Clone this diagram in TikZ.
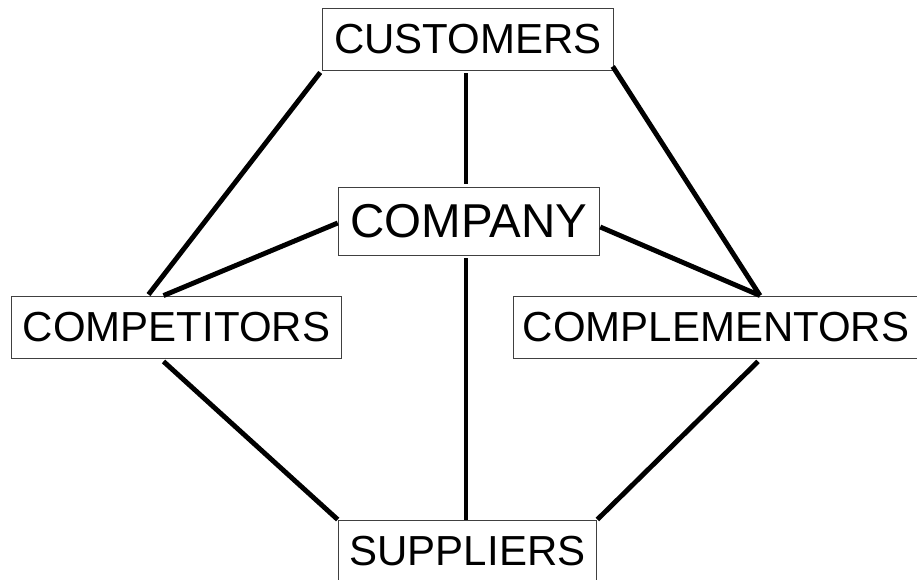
\documentclass[tikz,border=0pt]{standalone}
\usepackage{fontspec}
\setmainfont{Liberation Sans}
\usetikzlibrary{calc}

\tikzset{
  caja/.style={draw=black!75, line width=0.9pt, fill=white, inner xsep=11.5pt,
    minimum height=62pt, font=\fontsize{42}{48}\selectfont},
  cajagrande/.style={caja, inner xsep=12.5pt, minimum height=68pt,
    font=\fontsize{47.5}{54}\selectfont},
  enlace/.style={line width=4.9pt, black}
}

\begin{document}
\begin{tikzpicture}[x=1pt, y=-1pt]
        \useasboundingbox (0,0) rectangle (917,580);

        % Paso 1: Coloca las cajas de los actores
        \node[caja] (customers) at (468,39) {CUSTOMERS};
        \node[cajagrande] (company) at (469,221) {COMPANY};
        \node[caja] (competitors) at (176.5,327) {COMPETITORS};
        \node[caja, inner xsep=9pt] (complementors) at (716,327) {COMPLEMENTORS};
        \node[caja] (suppliers) at (467.5,551) {SUPPLIERS};

        % Paso 2: Une los clientes con los demás
        \draw[enlace] ($(customers.south west)+(-2,2)$) -- ($(competitors.north)+(-28,-1)$);
        \draw[enlace] ($(customers.south)+(-2,3)$) -- ($(company.north)+(-3,-3)$);
        \draw[enlace] ($(customers.south east)+(-1,-4)$) -- ($(complementors.north)+(44,0)$);

        % Paso 3: Une la empresa con los demás
        \draw[enlace] ($(company.west)+(0,2)$) -- ($(competitors.north)+(-13,0)$);
        \draw[enlace] ($(company.east)+(0,6)$) -- ($(complementors.north)+(44,0)$);
        \draw[enlace] ($(company.south)+(-3,3)$) -- ($(suppliers.north)+(-1.5,0)$);

        % Paso 4: Une los proveedores con los lados
        \draw[enlace] ($(competitors.south)+(-13,3)$) -- (suppliers.north west);
        \draw[enlace] ($(complementors.south)+(42,3)$) -- (suppliers.north east);
    \end{tikzpicture}
\end{document}
